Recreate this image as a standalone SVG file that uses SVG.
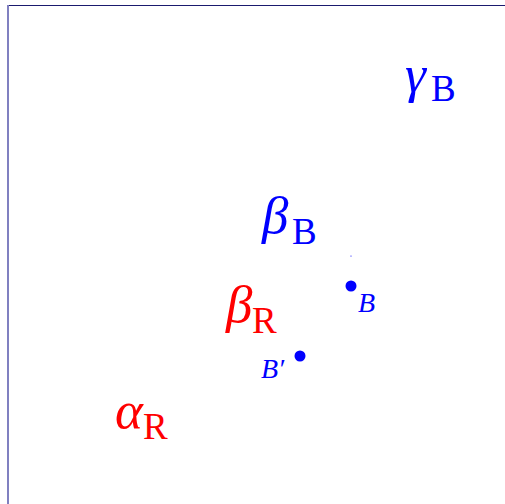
<svg xmlns="http://www.w3.org/2000/svg" width="505" height="504" viewBox="0 0 505 504">
<style>
.g{font-family:"Liberation Serif",serif;font-style:italic;font-size:53px}
.s{font-family:"Liberation Serif",serif;font-size:37px}
.pt{font-family:"Liberation Serif",serif;font-style:italic;font-size:28px;fill:#0000ff}
.blue{fill:#0000ff}
.red{fill:#ff0000}
</style>
<rect width="505" height="504" fill="#ffffff"/>
<g id="frame">
<line x1="8" y1="5.5" x2="505" y2="5.5" stroke="#1a1a6e" stroke-width="1.2"/>
<line x1="8" y1="5" x2="8" y2="504" stroke="#8080c0" stroke-width="2"/>
</g>
<g id="gammaB" class="blue"><text class="g" x="405" y="92">γ</text><text class="s" x="431" y="101">B</text></g>
<g id="betaB" class="blue"><text class="g" x="262" y="233">β</text><text class="s" x="292" y="244">B</text></g>
<g id="betaR" class="red"><text class="g" x="226" y="322">β</text><text class="s" x="252" y="333">R</text></g>
<g id="alphaR" class="red"><text class="g" x="115" y="428">α</text><text class="s" x="143" y="439">R</text></g>
<g id="pointB"><circle cx="351" cy="286" r="5.5" fill="#0000ff"/><text class="pt" x="358" y="312">B</text></g>
<g id="pointBprime"><circle cx="300" cy="356" r="5.5" fill="#0000ff"/><text class="pt" x="261" y="378">B′</text></g>
<g id="tiny"><circle cx="351" cy="256" r="0.6" fill="#0000ff"/></g>
</svg>
